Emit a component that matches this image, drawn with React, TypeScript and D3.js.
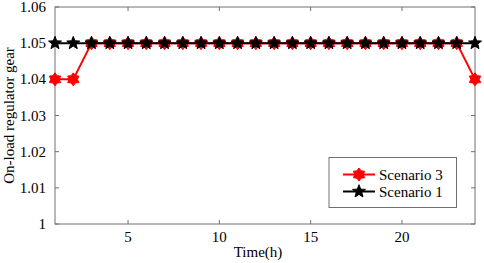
import React from "react";
import * as d3 from "d3";

const hours = d3.range(1, 25);
const scenario3 = [1.04, 1.04, 1.05, 1.05, 1.05, 1.05, 1.05, 1.05, 1.05, 1.05, 1.05, 1.05, 1.05, 1.05, 1.05, 1.05, 1.05, 1.05, 1.05, 1.05, 1.05, 1.05, 1.05, 1.04];
const scenario1 = [1.05, 1.05, 1.05, 1.05, 1.05, 1.05, 1.05, 1.05, 1.05, 1.05, 1.05, 1.05, 1.05, 1.05, 1.05, 1.05, 1.05, 1.05, 1.05, 1.05, 1.05, 1.05, 1.05, 1.05];
const xTicks = [5, 10, 15, 20];
const yTicks = [1, 1.01, 1.02, 1.03, 1.04, 1.05, 1.06];
const legendLabels = ["Scenario 3", "Scenario 1"];

const W = 484, H = 263;
const L = 55, R = 475, T = 7, B = 224;
const FONT = "'Liberation Serif', 'Times New Roman', serif";
const AX = "#707070";
const FS = 15;

function starPath(n: number, ro: number, ri: number) {
  const pts: [number, number][] = [];
  for (let i = 0; i < n * 2; i++) {
    const a = -Math.PI / 2 + (i * Math.PI) / n;
    const r = i % 2 === 0 ? ro : ri;
    pts.push([r * Math.cos(a), r * Math.sin(a)]);
  }
  return "M" + pts.map((p) => p[0].toFixed(2) + "," + p[1].toFixed(2)).join("L") + "Z";
}
const hexagram = starPath(6, 6.5, 4.2);
const pentagram = starPath(5, 6.8, 2.9);

export default function App() {
  const x = d3.scaleLinear().domain([1, 24]).range([L, R]);
  const y = d3.scaleLinear().domain([1, 1.06]).range([B, T]);
  const line = d3.line<number>().x((_, i) => x(hours[i])).y((d) => y(d));
  const fmt = (v: number) => (v === 1 ? "1" : v.toFixed(2));
  return (
    <svg width={W} height={H} style={{ position: "absolute", left: 0, top: 0, background: "#fff" }} fontFamily={FONT}>
      <rect x={0} y={0} width={W} height={H} fill="#fff" />
      {/* axes box */}
      <rect x={L} y={T} width={R - L} height={B - T} fill="none" stroke={AX} strokeWidth={1} />
      {xTicks.map((t) => (
        <g key={"x" + t}>
          <line x1={x(t)} x2={x(t)} y1={B} y2={B - 4} stroke={AX} />
          <line x1={x(t)} x2={x(t)} y1={T} y2={T + 4} stroke={AX} />
          <text x={x(t)} y={242} textAnchor="middle" fontSize={FS} fill="#000">{t}</text>
        </g>
      ))}
      {yTicks.map((t) => (
        <g key={"y" + t}>
          <line x1={L} x2={L + 4} y1={y(t)} y2={y(t)} stroke={AX} />
          <line x1={R} x2={R - 4} y1={y(t)} y2={y(t)} stroke={AX} />
          <text x={46} y={y(t) + 5} textAnchor="end" fontSize={FS} fill="#000">{fmt(t)}</text>
        </g>
      ))}
      <text x={258} y={257} textAnchor="middle" fontSize={FS} fill="#000">Time(h)</text>
      <text transform={`translate(14,${(T + B) / 2}) rotate(-90)`} textAnchor="middle" fontSize={FS} fill="#000">On-load regulator gear</text>
      {/* series */}
      <path d={line(scenario3) || ""} fill="none" stroke="#ff0000" strokeWidth={2} />
      {scenario3.map((v, i) => (
        <path key={"r" + i} d={hexagram} transform={`translate(${x(hours[i])},${y(v)})`} fill="#ff0000" stroke="#ff0000" strokeWidth={1} />
      ))}
      <path d={line(scenario1) || ""} fill="none" stroke="#000" strokeWidth={2} />
      {scenario1.map((v, i) => (
        <path key={"k" + i} d={pentagram} transform={`translate(${x(hours[i])},${y(v)})`} fill="#000" stroke="#000" strokeWidth={1} />
      ))}
      {/* legend */}
      <rect x={329} y={157.5} width={127.5} height={50} fill="#fff" stroke={AX} strokeWidth={1} />
      {legendLabels.map((lab, i) => {
        const ly = 174.5 + i * 17;
        const col = i === 0 ? "#ff0000" : "#000";
        return (
          <g key={lab}>
            <line x1={343} x2={375} y1={ly} y2={ly} stroke={col} strokeWidth={2} />
            <path d={i === 0 ? hexagram : pentagram} transform={`translate(359,${ly})`} fill={col} stroke={col} strokeWidth={1} />
            <text x={379} y={ly + 5} fontSize={FS} fill="#000">{lab}</text>
          </g>
        );
      })}
    </svg>
  );
}
